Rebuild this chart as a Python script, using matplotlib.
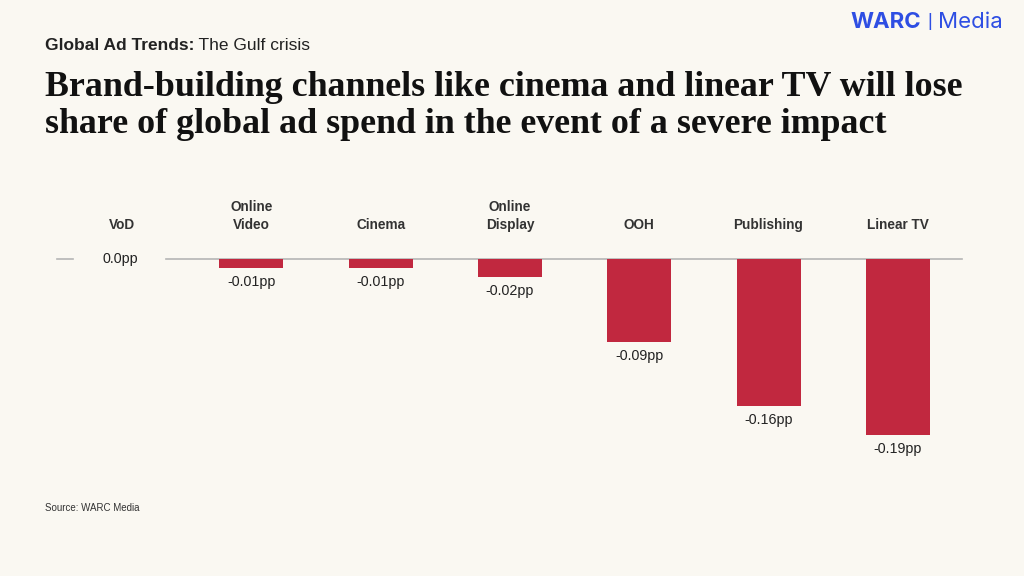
import matplotlib
matplotlib.use("Agg")
import matplotlib.pyplot as plt

categories = ["VoD", "Online\nVideo", "Cinema", "Online\nDisplay", "OOH", "Publishing", "Linear TV"]
values = [0.0, -0.01, -0.01, -0.02, -0.09, -0.16, -0.19]
# bar lengths as drawn (label rounding hides the exact size)
bar_values = [0.0, -0.0097, -0.0097, -0.0194, -0.0896, -0.1587, -0.19]
value_labels = ["0.0pp", "-0.01pp", "-0.01pp", "-0.02pp", "-0.09pp", "-0.16pp", "-0.19pp"]

title_lines = ["Brand-building channels like cinema and linear TV will lose",
               "share of global ad spend in the event of a severe impact"]
kicker_bold = "Global Ad Trends:"
kicker_rest = " The Gulf crisis"
source = "Source: WARC Media"

bg = "#FAF8F2"
red = "#C1283F"
blue = "#2E4EE3"

W, H = 1024, 576
fig = plt.figure(figsize=(W / 100, H / 100), dpi=100, facecolor=bg)

# axes over whole figure; first bar at 122px, spacing 129.3px; 926px per unit
x0, dx = 122, 129.3
base_y, scale = 259, 926
ax = fig.add_axes([0, 0, 1, 1])
ax.set_facecolor(bg)
ax.set_xlim(-x0 / dx, (W - x0) / dx)
ax.set_ylim(-(H - base_y) / scale, base_y / scale)
ax.axis("off")

n = len(categories)
xs = list(range(n))

ax.plot([-0.5, -0.38], [0, 0], color="#b5b5b5", lw=1.2, zorder=1)
ax.plot([0.34, n - 0.5], [0, 0], color="#b5b5b5", lw=1.2, zorder=1)

ax.bar(xs[1:], bar_values[1:], width=64 / dx, color=red, zorder=2)

for x, cat, v, lab in zip(xs, categories, bar_values, value_labels):
    ax.text(x, 27 / scale, cat, ha="center", va="bottom", fontsize=9.8,
            fontweight="bold", color="#333333", family="Liberation Sans",
            linespacing=1.4)
    if v == 0:
        ax.text(x - 2 / dx, 0, lab, ha="center", va="center", fontsize=10.3,
                color="#222222", family="Liberation Sans")
    else:
        ax.text(x, v - 14 / scale, lab, ha="center", va="center", fontsize=10.3,
                color="#222222", family="Liberation Sans")

# header (pixel coordinates, origin bottom-left)
renderer = fig.canvas.get_renderer()
t1 = fig.text(45, H - 45, kicker_bold, ha="left", va="center", fontsize=12.5,
              fontweight="bold", color="#222222", family="Liberation Sans",
              transform=None)
bb = t1.get_window_extent(renderer)
fig.text(bb.x1, H - 45, kicker_rest, ha="left", va="center", fontsize=12.5,
         color="#222222", family="Liberation Sans", transform=None)

for i, line in enumerate(title_lines):
    fig.text(45, H - 96 - 37 * i, line, ha="left", va="baseline", fontsize=25.8,
             fontweight="bold", color="#111111", family="Liberation Serif",
             transform=None)

w1 = fig.text(1003, H - 22, "Media", ha="right", va="center", fontsize=16,
              color=blue, family="Inter", transform=None)
bb = w1.get_window_extent(renderer)
w2 = fig.text(bb.x0 - 6, H - 22, "|", ha="right", va="center", fontsize=13,
              color=blue, family="Liberation Sans", transform=None)
bb = w2.get_window_extent(renderer)
fig.text(bb.x0 - 6, H - 22, "WARC", ha="right", va="center", fontsize=16,
         fontweight="bold", color=blue, family="Inter", transform=None)

fig.text(45, H - 508, source, ha="left", va="center", fontsize=7,
         color="#333333", family="Liberation Sans", transform=None)

fig.savefig("out.png", dpi=100, facecolor=bg)
